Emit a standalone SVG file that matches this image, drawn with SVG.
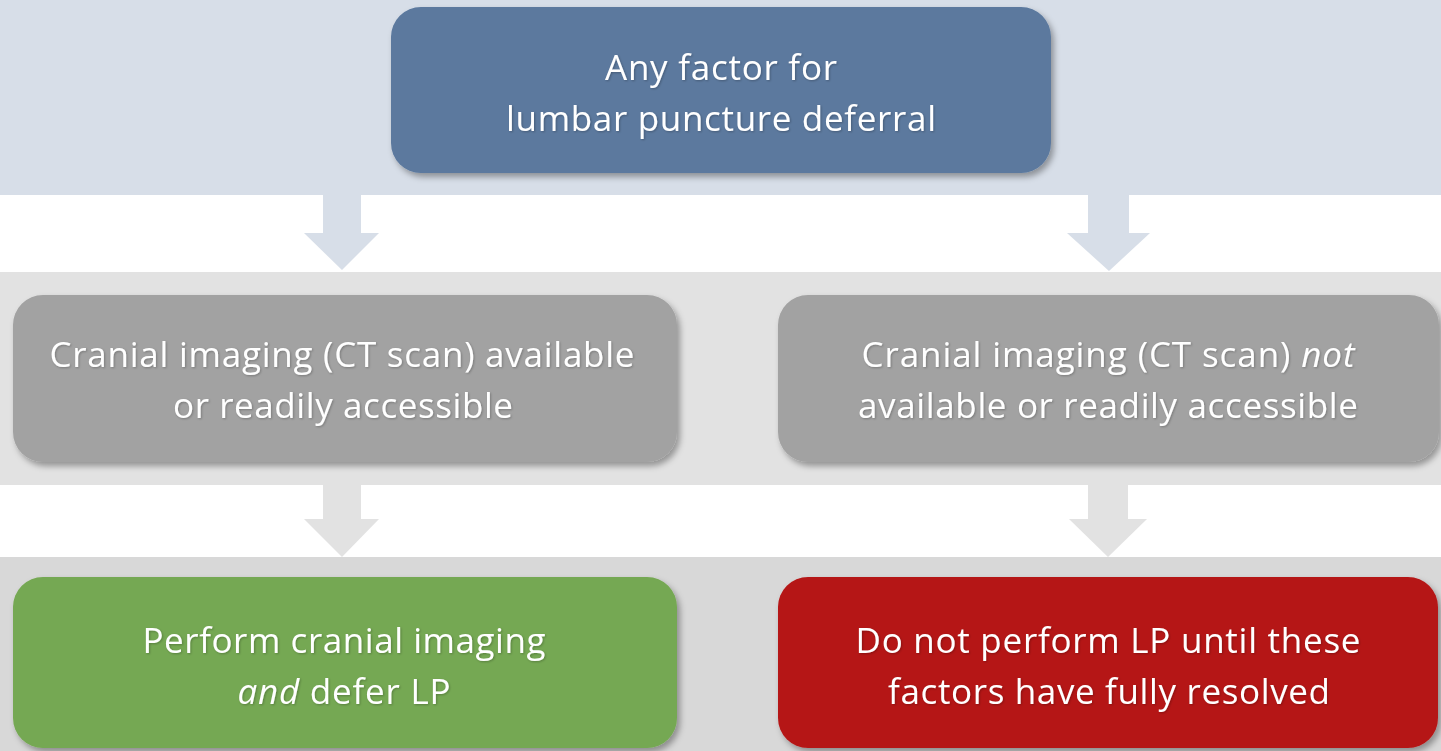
<svg xmlns="http://www.w3.org/2000/svg" width="1441" height="751" viewBox="0 0 1441 751">
<style>
.t{font-family:"Open Sans","Liberation Sans",sans-serif;font-size:35px;fill:#ffffff;text-anchor:middle;filter:url(#ts)}
.i{font-style:italic}
</style>
<defs>
<filter id="sh" x="-5%" y="-10%" width="112%" height="130%">
<feDropShadow dx="3" dy="4" stdDeviation="3" flood-color="#000" flood-opacity="0.35"/>
</filter>
<filter id="ts" x="-5%" y="-20%" width="110%" height="150%">
<feDropShadow dx="1" dy="1" stdDeviation="1.2" flood-color="#000" flood-opacity="0.25"/>
</filter>
</defs>
<rect x="0" y="0" width="1441" height="195" fill="#d7dee8"/>
<rect x="0" y="272" width="1441" height="213" fill="#e2e2e2"/>
<rect x="0" y="557" width="1441" height="194" fill="#d8d8d8"/>
<g id="connectors">
<polygon points="323,195 361,195 361,233 379,233 342,270 304,233 323,233" fill="#d7dee8"/>
<polygon points="1088,195 1129,195 1129,233 1150,233 1109,271 1067,233 1088,233" fill="#d7dee8"/>
<polygon points="323,485 361,485 361,519 379,519 342,557 304,519 323,519" fill="#e2e2e2"/>
<polygon points="1088,485 1128,485 1128,519 1147,519 1108,557 1069,519 1088,519" fill="#e2e2e2"/>
</g>
<g id="top">
<rect x="391" y="7" width="660" height="166" rx="30" fill="#5b799e" filter="url(#sh)"/>
<text class="t" x="721" y="80" textLength="232" lengthAdjust="spacing">Any factor for</text>
<text class="t" x="721" y="131" textLength="430" lengthAdjust="spacing">lumbar puncture deferral</text>
</g>
<g id="left-mid">
<rect x="13" y="295" width="664" height="167" rx="30" fill="#a2a2a2" filter="url(#sh)"/>
<text class="t" x="342" y="367" textLength="585" lengthAdjust="spacing">Cranial imaging (CT scan) available</text>
<text class="t" x="343" y="418" textLength="340" lengthAdjust="spacing">or readily accessible</text>
</g>
<g id="right-mid">
<rect x="778" y="295" width="661" height="167" rx="30" fill="#a2a2a2" filter="url(#sh)"/>
<text class="t" x="1108" y="367" textLength="493" lengthAdjust="spacing">Cranial imaging (CT scan) <tspan class="i">not</tspan></text>
<text class="t" x="1108" y="418" textLength="500" lengthAdjust="spacing">available or readily accessible</text>
</g>
<g id="left-bottom">
<rect x="13" y="577" width="664" height="171" rx="30" fill="#75a852" filter="url(#sh)"/>
<text class="t" x="344" y="653" textLength="403" lengthAdjust="spacing">Perform cranial imaging</text>
<text class="t" x="344" y="704" textLength="213" lengthAdjust="spacing"><tspan class="i">and</tspan> defer LP</text>
</g>
<g id="right-bottom">
<rect x="778" y="577" width="660" height="171" rx="30" fill="#b51616" filter="url(#sh)"/>
<text class="t" x="1108" y="653" textLength="505" lengthAdjust="spacing">Do not perform LP until these</text>
<text class="t" x="1109" y="704" textLength="442" lengthAdjust="spacing">factors have fully resolved</text>
</g>
</svg>
